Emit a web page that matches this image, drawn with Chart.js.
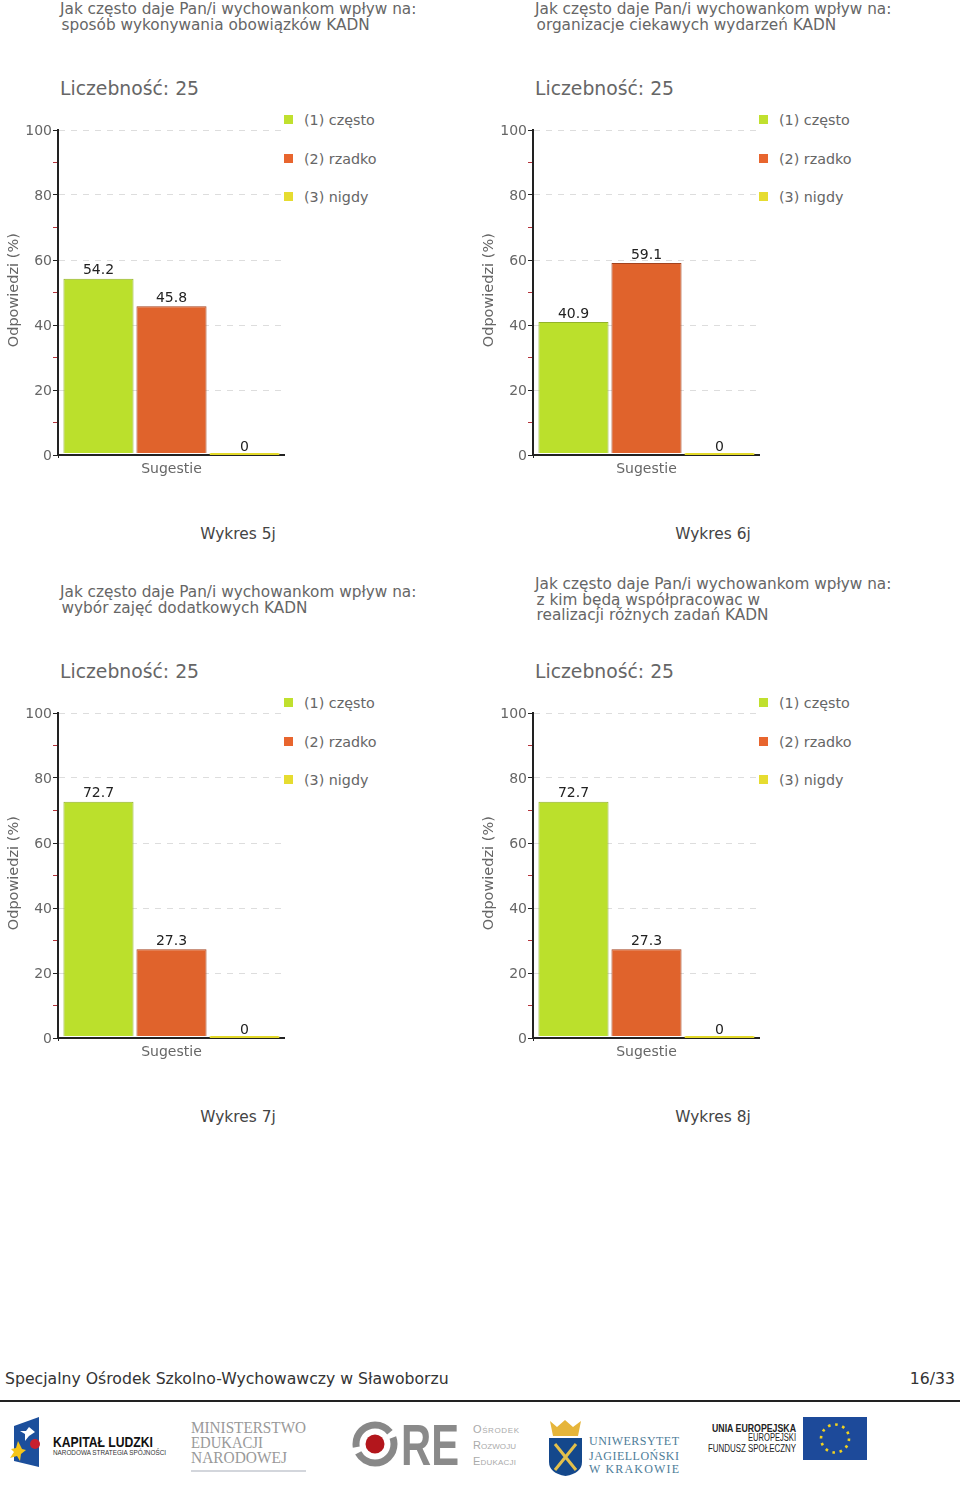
<!DOCTYPE html>
<html lang="pl">
<head>
<meta charset="utf-8">
<title>Wykresy 5j-8j</title>
<script src="https://cdn.jsdelivr.net/npm/chart.js@4"></script>
<style>
  html, body { margin: 0; background: #fff; }
  #page { position: relative; width: 960px; height: 1489px; overflow: hidden; font-family: "DejaVu Sans", sans-serif; color: #333; }
  #page > * { position: absolute; }
  .question { font-size: 15.3px; line-height: 15.5px; color: #666; white-space: pre; }
  .respondents { font-size: 18.8px; color: #666; white-space: pre; }
  .caption { font-size: 15.4px; color: #444; width: 160px; text-align: center; }
  .legend-item { font-size: 14.3px; color: #666; white-space: pre; line-height: 16px; padding-left: 20px; }
  .legend-item i { position: absolute; left: 0; top: 3px; width: 9px; height: 9px; }
  .footer { font-size: 15.7px; color: #333; }
  .rule { left: 0; top: 1400px; width: 960px; height: 2px; background: #222; }
</style>
</head>
<body>
<div id="page">
  <div class="footer" style="left:5px;top:1369px">Specjalny Ośrodek Szkolno-Wychowawczy w Sławoborzu</div>
  <div class="footer" style="right:5px;top:1369px">16/33</div>
  <div class="rule"></div>
  <svg style="left:0;top:0" width="960" height="1489" font-family="Liberation Sans, sans-serif">
    <polygon points="14,1426 39,1417 39,1467 14,1461" fill="#1c4f9c"/>
    <polygon points="29,1427 35,1432 29,1436 25,1441 25,1434 20,1431 26,1431" fill="#fff"/>
    <polygon points="18,1441 22,1449 26,1450 21,1454 20,1461 17,1456 10,1458 14,1452 11,1449 16,1448" fill="#f5c518"/>
    <circle cx="35" cy="1444" r="5" fill="#c8202f"/>
    <text x="53" y="1447" font-size="14" font-weight="bold" fill="#111" textLength="100" lengthAdjust="spacingAndGlyphs">KAPITAŁ LUDZKI</text>
    <text x="53" y="1455" font-size="7" fill="#333" textLength="113" lengthAdjust="spacingAndGlyphs">NARODOWA STRATEGIA SPÓJNOŚCI</text>
    <g font-family="Liberation Serif, serif" font-size="17" fill="#999">
      <text x="191" y="1433" textLength="115" lengthAdjust="spacingAndGlyphs">MINISTERSTWO</text>
      <text x="191" y="1448" textLength="72" lengthAdjust="spacingAndGlyphs">EDUKACJI</text>
      <text x="191" y="1463" textLength="96" lengthAdjust="spacingAndGlyphs">NARODOWEJ</text>
    </g>
    <line x1="191" y1="1471" x2="306" y2="1471" stroke="#c4c9d0" stroke-width="1.5"/>
    <circle cx="375" cy="1444" r="19" fill="none" stroke="#888" stroke-width="7" stroke-dasharray="50 6 50 6"/>
    <circle cx="375" cy="1444" r="9.5" fill="#b3161c"/>
    <text x="401" y="1465" font-size="58" font-weight="bold" fill="#8a8a8a" textLength="58" lengthAdjust="spacingAndGlyphs">RE</text>
    <g font-size="11" fill="#aaa" style="font-variant:small-caps">
      <text x="473" y="1433" textLength="46">Ośrodek</text>
      <text x="473" y="1449" textLength="43">Rozwoju</text>
      <text x="473" y="1465" textLength="43">Edukacji</text>
    </g>
    <polygon points="550,1421 557,1427 565,1420 573,1427 581,1421 578,1436 553,1436" fill="#e6b53a"/>
    <path d="M549,1438 H582 V1462 Q582,1473 565.5,1476 Q549,1473 549,1462 Z" fill="#14488c"/>
    <path d="M555,1444 L576,1470 M576,1444 L555,1470" stroke="#e3c04b" stroke-width="3"/>
    <g font-family="Liberation Serif, serif" font-size="12" fill="#4d7c98">
      <text x="589" y="1445" textLength="90">UNIWERSYTET</text>
      <text x="589" y="1460" textLength="90">JAGIELLOŃSKI</text>
      <text x="589" y="1473" textLength="90">W KRAKOWIE</text>
    </g>
    <g font-size="10" fill="#222">
      <text x="712" y="1432" font-weight="bold" textLength="84" lengthAdjust="spacingAndGlyphs">UNIA EUROPEJSKA</text>
      <text x="748" y="1441" textLength="48" lengthAdjust="spacingAndGlyphs">EUROPEJSKI</text>
      <text x="708" y="1452" textLength="88" lengthAdjust="spacingAndGlyphs">FUNDUSZ SPOŁECZNY</text>
    </g>
    <rect x="803" y="1417" width="64" height="43" fill="#1d4a9a"/>
    <circle cx="835" cy="1438.5" r="14" fill="none" stroke="#f2d21f" stroke-width="2.6" stroke-dasharray="2.6 4.7"/>
  </svg>
</div>
<script>
const categories = ["Sugestie"];
const seriesNames = ["(1) często", "(2) rzadko", "(3) nigdy"];
const seriesColors = ["#bbe02c", "#e0632c", "#e3d92a"];
const seriesBorders = ["#93b32a", "#a3431f", "#e3d92a"];
const legendColors = ["#c0e02e", "#e8652e", "#e6dc30"];

const values5j = [54.2, 45.8, 0];
const values6j = [40.9, 59.1, 0];
const values7j = [72.7, 27.3, 0];
const values8j = [72.7, 27.3, 0];

const questions5j = "Jak często daje Pan/i wychowankom wpływ na:\n\u200asposób wykonywania obowiązków KADN";
const questions6j = "Jak często daje Pan/i wychowankom wpływ na:\n\u200aorganizacje ciekawych wydarzeń KADN";
const questions7j = "Jak często daje Pan/i wychowankom wpływ na:\n\u200awybór zajęć dodatkowych KADN";
const questions8j = "Jak często daje Pan/i wychowankom wpływ na:\n\u200az kim będą współpracowac w\n\u200arealizacji różnych zadań KADN";

const respondents = "Liczebność: 25";
const axisTitle = " Odpowiedzi (%)";

const TEXT_COLOR = "#666";

const page = document.getElementById("page");

const valueLabels = {
  id: "valueLabels",
  afterDatasetsDraw(chart) {
    const { ctx } = chart;
    ctx.save();
    ctx.font = "14px 'DejaVu Sans'";
    ctx.fillStyle = "#222";
    ctx.textAlign = "center";
    ctx.textBaseline = "bottom";
    chart.data.datasets.forEach((dataset, i) => {
      const bar = chart.getDatasetMeta(i).data[0];
      ctx.fillText(String(dataset.data[0]), bar.x, bar.y - 1);
    });
    ctx.restore();
  },
};

const createDataset = (values, i) => ({
  label: seriesNames[i],
  data: values.slice(i, i + 1),
  backgroundColor: seriesColors[i],
  borderColor: seriesBorders[i],
  borderWidth: 1,
  base: 0.6,
  barPercentage: 0.96,
  categoryPercentage: 0.965,
});

const addText = (className, text, left, top) => {
  const el = document.createElement("div");
  el.className = className;
  el.textContent = text;
  el.style.left = left + "px";
  el.style.top = top + "px";
  page.appendChild(el);
  return el;
};

const addLegend = (left, top) => {
  seriesNames.forEach((name, i) => {
    const item = addText("legend-item", name, left + 284, top + 112 + i * 38.5);
    const marker = document.createElement("i");
    marker.style.background = legendColors[i];
    item.appendChild(marker);
  });
};

const addChart = ({ values, question, caption, left, top, questionTop }) => {
  addText("question", question, left + 60, questionTop + 2);
  addText("respondents", respondents, left + 60, top + 78);
  addText("caption", caption, left + 158, top + 525);
  addLegend(left, top);

  const canvas = document.createElement("canvas");
  canvas.style.left = left + "px";
  canvas.style.top = top + 120 + "px";
  canvas.width = 285;
  canvas.height = 362;
  page.appendChild(canvas);

  new Chart(canvas.getContext("2d"), {
    type: "bar",
    data: {
      labels: categories,
      datasets: seriesNames.map((_, i) => createDataset(values, i)),
    },
    plugins: [valueLabels],
    options: {
      responsive: false,
      animation: false,
      layout: { padding: { top: 10 } },
      plugins: {
        tooltip: { enabled: false },
        legend: { display: false },
      },
      scales: {
        x: {
          afterFit: (scale) => { scale.height = 27; },
          grid: { drawOnChartArea: false, tickLength: 3, tickColor: "#222" },
          border: { color: "#222", width: 2 },
          ticks: { color: TEXT_COLOR, padding: 3, font: { family: "DejaVu Sans", size: 14 } },
        },
        y: {
          min: 0,
          max: 100,
          afterFit: (scale) => { scale.width = 58; },
          title: {
            display: true,
            text: axisTitle,
            color: TEXT_COLOR,
            padding: { top: 6, bottom: 0 },
            font: { family: "DejaVu Sans", size: 14.5 },
          },
          grid: {
            tickLength: 5,
            color: (ctx) => (ctx.tick && ctx.tick.value % 20 === 0 ? "#ddd" : "transparent"),
            tickColor: (ctx) => (ctx.tick && ctx.tick.value % 20 === 0 ? "#222" : "#b5323a"),
          },
          border: { color: "#222", width: 2, dash: [6, 6] },
          ticks: {
            stepSize: 10,
            autoSkip: false,
            color: TEXT_COLOR,
            padding: 1,
            labelOffset: 1,
            font: { family: "DejaVu Sans", size: 14 },
            callback: (value) => (value % 20 === 0 ? value : ""),
          },
        },
      },
    },
  });
};

addChart({ values: values5j, question: questions5j, caption: "Wykres 5j", left: 0, top: 0, questionTop: 0 });
addChart({ values: values6j, question: questions6j, caption: "Wykres 6j", left: 475, top: 0, questionTop: 0 });
addChart({ values: values7j, question: questions7j, caption: "Wykres 7j", left: 0, top: 583, questionTop: 583 });
addChart({ values: values8j, question: questions8j, caption: "Wykres 8j", left: 475, top: 583, questionTop: 575 });
</script>
</body>
</html>
